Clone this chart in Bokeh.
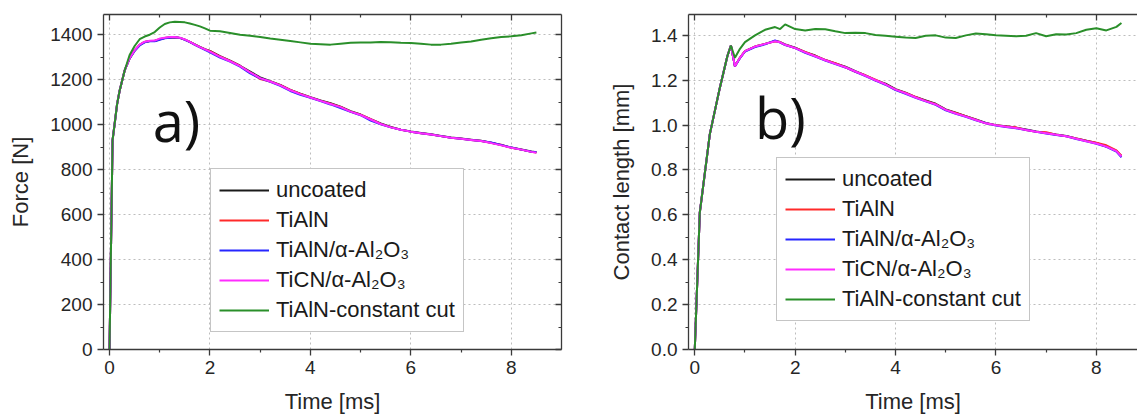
from bokeh.plotting import figure
from bokeh.layouts import row
from bokeh.models import (LinearAxis, FixedTicker, Legend, LegendItem, Label,
                          CustomJSTickFormatter, PrintfTickFormatter, Range1d)
from bokeh.embed import file_html
from bokeh.resources import INLINE

FONT = "Liberation Sans"

# ---------------- data ----------------
series_names = ["uncoated", "TiAlN", "TiAlN/α-Al₂O₃", "TiCN/α-Al₂O₃", "TiAlN-constant cut"]
series_colors = ["#1a1a1a", "#ff2a2a", "#2626ff", "#ff2cff", "#2a8f2a"]

time_force = [0, 0.06, 0.1, 0.15, 0.2, 0.3, 0.4, 0.5, 0.6, 0.7,
              0.8, 0.9, 1.0, 1.1, 1.2, 1.3, 1.4, 1.5, 1.6, 1.7,
              1.8, 1.9, 2.0, 2.2, 2.4, 2.6, 2.8, 3.0, 3.2, 3.4,
              3.6, 3.8, 4.0, 4.2, 4.4, 4.6, 4.8, 5.0, 5.2, 5.4,
              5.6, 5.8, 6.0, 6.2, 6.4, 6.6, 6.8, 7.0, 7.2, 7.4,
              7.6, 7.8, 8.0, 8.2, 8.4, 8.5]
force_uncoated = [0, 930, 1000, 1090, 1150, 1240, 1295, 1330, 1355, 1368,
                  1372, 1372, 1380, 1385, 1388, 1389, 1386, 1378, 1368, 1357,
                  1346, 1336, 1328, 1305, 1285, 1262, 1236, 1210, 1193, 1177,
                  1155, 1138, 1122, 1108, 1095, 1080, 1060, 1045, 1025, 1006,
                  990, 978, 970, 963, 957, 950, 943, 938, 933, 928,
                  920, 909, 898, 890, 881, 877]
force_tialn = [0, 930, 1000, 1090, 1150, 1240, 1295, 1330, 1355, 1368,
               1372, 1373, 1380, 1385, 1388, 1389, 1386, 1378, 1368, 1356,
               1345, 1335, 1327, 1303, 1284, 1261, 1232, 1203, 1192, 1176,
               1155, 1137, 1121, 1107, 1093, 1079, 1058, 1044, 1024, 1003,
               989, 977, 969, 962, 956, 949, 942, 937, 932, 927,
               919, 911, 897, 889, 879, 876]
force_tialn_al2o3 = [0, 930, 1000, 1090, 1150, 1240, 1295, 1328, 1352, 1366,
                     1371, 1371, 1378, 1384, 1387, 1389, 1386, 1377, 1367, 1355,
                     1344, 1333, 1322, 1298, 1281, 1258, 1228, 1206, 1191, 1173,
                     1150, 1133, 1120, 1105, 1090, 1074, 1057, 1042, 1018, 1002,
                     988, 977, 969, 962, 956, 949, 942, 937, 932, 927,
                     921, 910, 898, 889, 880, 878]
force_ticn_al2o3 = [0, 930, 1000, 1090, 1150, 1240, 1296, 1331, 1356, 1369,
                    1373, 1374, 1383, 1387, 1390, 1390, 1387, 1379, 1368, 1356,
                    1345, 1335, 1325, 1302, 1282, 1260, 1233, 1207, 1192, 1175,
                    1153, 1136, 1121, 1106, 1092, 1078, 1058, 1043, 1023, 1003,
                    988, 977, 969, 962, 956, 949, 942, 937, 932, 927,
                    918, 908, 897, 889, 879, 875]
force_constant_cut = [0, 930, 1000, 1090, 1150, 1240, 1310, 1350, 1380, 1392,
                      1400, 1412, 1432, 1448, 1455, 1458, 1457, 1455, 1450, 1444,
                      1437, 1428, 1418, 1415, 1408, 1400, 1395, 1390, 1383, 1378,
                      1372, 1366, 1360, 1358, 1356, 1360, 1364, 1366, 1366, 1368,
                      1367, 1364, 1363, 1360, 1356, 1356, 1360, 1365, 1370, 1378,
                      1384, 1390, 1393, 1398, 1406, 1410]

time_contact = [0, 0.1, 0.3, 0.5, 0.65, 0.72, 0.8, 0.9, 1.0, 1.2,
                1.4, 1.6, 1.7, 1.8, 2.0, 2.2, 2.4, 2.6, 2.8, 3.0,
                3.2, 3.4, 3.6, 3.8, 4.0, 4.2, 4.4, 4.6, 4.8, 5.0,
                5.2, 5.4, 5.6, 5.8, 6.0, 6.2, 6.4, 6.6, 6.8, 7.0,
                7.2, 7.4, 7.6, 7.8, 8.0, 8.2, 8.4, 8.5]
contact_uncoated = [0, 0.61, 0.96, 1.167, 1.308, 1.355, 1.262, 1.30, 1.33, 1.35,
                    1.362, 1.375, 1.37, 1.36, 1.345, 1.325, 1.31, 1.29, 1.275, 1.26,
                    1.24, 1.222, 1.2, 1.185, 1.16, 1.145, 1.125, 1.11, 1.095, 1.07,
                    1.055, 1.04, 1.025, 1.01, 1.0, 0.995, 0.988, 0.98, 0.972, 0.965,
                    0.958, 0.952, 0.94, 0.93, 0.92, 0.905, 0.885, 0.862]
contact_tialn = [0, 0.61, 0.96, 1.167, 1.308, 1.355, 1.262, 1.30, 1.33, 1.35,
                 1.362, 1.374, 1.37, 1.358, 1.344, 1.326, 1.308, 1.29, 1.276, 1.258,
                 1.238, 1.222, 1.203, 1.182, 1.158, 1.143, 1.126, 1.108, 1.093, 1.068,
                 1.054, 1.04, 1.024, 1.008, 1.0, 0.994, 0.99, 0.978, 0.97, 0.968,
                 0.957, 0.95, 0.941, 0.93, 0.922, 0.91, 0.887, 0.864]
contact_tialn_al2o3 = [0, 0.61, 0.96, 1.167, 1.308, 1.355, 1.262, 1.298, 1.328, 1.348,
                       1.36, 1.378, 1.368, 1.357, 1.343, 1.322, 1.305, 1.288, 1.272, 1.257,
                       1.238, 1.218, 1.198, 1.18, 1.156, 1.14, 1.122, 1.106, 1.09, 1.066,
                       1.05, 1.037, 1.022, 1.008, 0.998, 0.992, 0.986, 0.978, 0.97, 0.963,
                       0.956, 0.95, 0.938, 0.928, 0.917, 0.903, 0.882, 0.856]
contact_ticn_al2o3 = [0, 0.61, 0.96, 1.167, 1.308, 1.355, 1.262, 1.30, 1.33, 1.35,
                      1.362, 1.374, 1.369, 1.358, 1.343, 1.324, 1.307, 1.289, 1.273, 1.258,
                      1.239, 1.22, 1.2, 1.182, 1.158, 1.142, 1.123, 1.107, 1.092, 1.068,
                      1.052, 1.038, 1.023, 1.008, 0.999, 0.993, 0.987, 0.978, 0.97, 0.964,
                      0.957, 0.95, 0.939, 0.928, 0.918, 0.904, 0.884, 0.86]
contact_constant_cut = [0, 0.61, 0.96, 1.167, 1.308, 1.355, 1.30, 1.34, 1.37, 1.40,
                        1.425, 1.437, 1.428, 1.449, 1.428, 1.422, 1.428, 1.427, 1.418, 1.41,
                        1.412, 1.41, 1.402, 1.398, 1.394, 1.39, 1.388, 1.398, 1.40, 1.39,
                        1.388, 1.40, 1.408, 1.405, 1.40, 1.398, 1.396, 1.398, 1.41, 1.396,
                        1.405, 1.404, 1.41, 1.425, 1.432, 1.422, 1.438, 1.455]

x_ticks = [0, 2, 4, 6, 8]
x_minor = [1, 3, 5, 7]
force_ticks = [0, 200, 400, 600, 800, 1000, 1200, 1400]
force_minor = [100, 300, 500, 700, 900, 1100, 1300]
contact_ticks = [0.0, 0.2, 0.4, 0.6, 0.8, 1.0, 1.2, 1.4]
contact_minor = [0.1, 0.3, 0.5, 0.7, 0.9, 1.1, 1.3]

AX = "#3a3a3a"
TXT = "#262626"


def style_axis(ax, out=True, labels=True):
    ax.axis_line_color = AX
    ax.axis_line_width = 1.3
    ax.major_tick_line_color = AX
    ax.minor_tick_line_color = AX
    ax.major_tick_line_width = 1.3
    ax.minor_tick_line_width = 1.2
    if out:
        ax.major_tick_out, ax.major_tick_in = 6, 0
        ax.minor_tick_out, ax.minor_tick_in = 3, 0
    else:
        ax.major_tick_out, ax.major_tick_in = 0, 6
        ax.minor_tick_out, ax.minor_tick_in = 0, 3
    ax.major_label_text_font = FONT
    ax.major_label_text_font_size = "19px"
    ax.major_label_text_color = TXT
    ax.major_label_standoff = 5
    ax.axis_label_text_font = FONT
    ax.axis_label_text_font_size = "22px"
    ax.axis_label_text_font_style = "normal"
    ax.axis_label_text_color = TXT
    if not labels:
        ax.major_label_text_font_size = "0px"
        ax.formatter = CustomJSTickFormatter(code="return ''")


def make_fig(xs, xe, ye, mb_left, frame_w, mb_right, yticks, yminor, ylabel, yfmt):
    p = figure(frame_width=frame_w, frame_height=335,
               min_border_left=mb_left, min_border_right=mb_right,
               min_border_top=14, min_border_bottom=67,
               x_range=Range1d(xs, xe), y_range=Range1d(0, ye),
               output_backend="svg", toolbar_location=None)
    p.outline_line_color = None
    p.background_fill_color = "white"
    p.border_fill_color = "white"
    xt = FixedTicker(ticks=x_ticks, minor_ticks=x_minor)
    yt = FixedTicker(ticks=yticks, minor_ticks=yminor)
    p.xaxis.ticker = xt
    p.yaxis.ticker = yt
    if yfmt is not None:
        p.yaxis.formatter = yfmt
    p.xaxis.axis_label = "Time [ms]"
    p.yaxis.axis_label = ylabel
    for ax in p.xaxis + p.yaxis:
        style_axis(ax, out=True)
    p.xaxis.axis_label_standoff = 12
    p.yaxis.axis_label_standoff = 14
    top = LinearAxis(ticker=FixedTicker(ticks=x_ticks, minor_ticks=x_minor))
    style_axis(top, out=False, labels=False)
    p.add_layout(top, "above")
    for g in (p.xgrid, p.ygrid):
        g.grid_line_color = "#bdbdbd"
        g.grid_line_dash = "2 3"
        g.grid_line_width = 1
    p.xgrid.ticker = xt
    p.ygrid.ticker = yt
    return p


def add_series(p, xs, ys_list):
    items = []
    for name, color, ys in zip(series_names, series_colors, ys_list):
        r = p.line(xs, ys, line_color=color, line_width=2)
        items.append(LegendItem(label=name, renderers=[r]))
    return items


def add_legend(p, items, loc):
    lg = Legend(items=items, location=loc)
    lg.label_text_font = FONT
    lg.label_text_font_size = "22px"
    lg.label_text_color = "#1a1a1a"
    lg.glyph_width = 50
    lg.glyph_height = 20
    lg.label_standoff = 7
    lg.padding = 8
    lg.spacing = 4
    lg.margin = 0
    lg.border_line_color = "#8c8c8c"
    lg.border_line_width = 1.5
    lg.background_fill_color = "white"
    lg.background_fill_alpha = 1
    p.add_layout(lg)


# ---------------- left: force ----------------
p1 = make_fig(-0.12, 9.0, 1490, 103, 458, 27, force_ticks, force_minor, "Force [N]", None)
right_ax = LinearAxis(ticker=FixedTicker(ticks=force_ticks, minor_ticks=force_minor))
style_axis(right_ax, out=False, labels=False)
p1.add_layout(right_ax, "right")
items1 = add_series(p1, time_force, [force_uncoated, force_tialn, force_tialn_al2o3,
                                     force_ticn_al2o3, force_constant_cut])
add_legend(p1, items1, (107, 17))
p1.add_layout(Label(x=0.86, y=1020, text="a)", text_font="Open Sans",
                    text_font_size="56px", text_color="#111111",
                    text_baseline="alphabetic"))

# ---------------- right: contact length ----------------
p2 = make_fig(-0.125, 8.82, 1.493, 100, 449, 0, contact_ticks, contact_minor,
              "Contact length [mm]", PrintfTickFormatter(format="%.1f"))
items2 = add_series(p2, time_contact, [contact_uncoated, contact_tialn, contact_tialn_al2o3,
                                       contact_ticn_al2o3, contact_constant_cut])
add_legend(p2, items2, (88, 28))
p2.add_layout(Label(x=1.2, y=1.035, text="b)", text_font="Open Sans",
                    text_font_size="56px", text_color="#111111",
                    text_baseline="alphabetic"))

layout = row(p1, p2)
open("out.html", "w").write(file_html(layout, INLINE))
